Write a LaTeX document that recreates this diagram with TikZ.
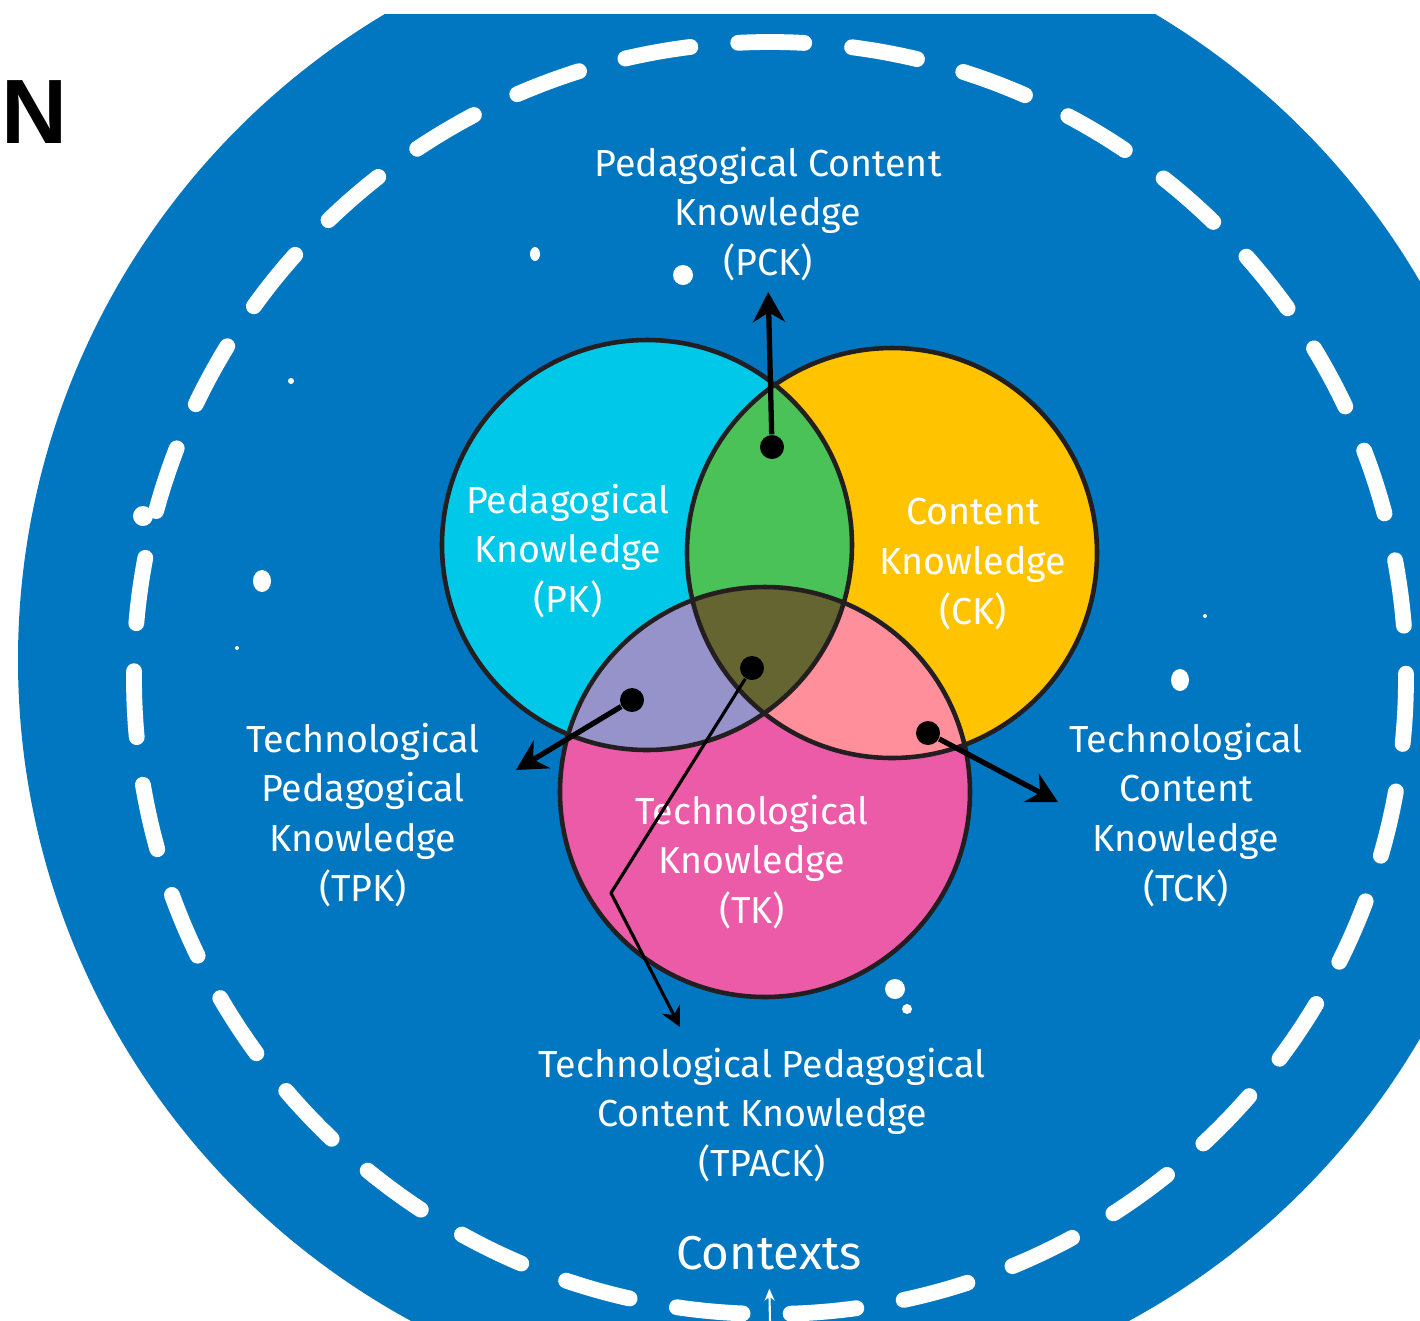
\documentclass[tikz,border=0pt]{standalone}
\usepackage{fontspec}
\setmainfont{Fira Sans}
\newfontfamily\letterfont{Liberation Sans}
\usetikzlibrary{arrows.meta}

\definecolor{ctxblue}{RGB}{0,119,192}
\definecolor{pkcyan}{RGB}{0,200,232}
\definecolor{ckyellow}{RGB}{255,195,0}
\definecolor{tkpink}{RGB}{236,91,168}
\definecolor{pckgreen}{RGB}{75,194,87}
\definecolor{tpklilac}{RGB}{150,147,202}
\definecolor{tcksalmon}{RGB}{255,143,155}
\definecolor{tpackolive}{RGB}{100,101,48}
\definecolor{rim}{RGB}{35,31,32}

\begin{document}
\begin{tikzpicture}[x=0.01cm, y=-0.01cm,
  lbl/.style={text=white, align=center, inner sep=0pt, font=\fontsize{10.7}{14.2}\selectfont},
  knot/.style={circle, fill=black, inner sep=0pt, minimum size=0.24cm},
  pointer/.style={-{Stealth[length=0.3cm, width=0.32cm]}, line width=1.5pt, black},
  thinpointer/.style={-{Stealth[length=0.2cm, width=0.2cm]}, line width=0.9pt, black, line join=round},
  rimline/.style={draw=rim, line width=1.3pt},
  spot/.style={fill=white}]

\useasboundingbox (0,0) rectangle (1420,1320);
\fill[white] (0,0) rectangle (1420,1320);

%% Contexts background %%
\begin{scope}
\clip (0,14) rectangle (1420,1320);
\fill[ctxblue] (770,660) circle (752);
% dashed ring %
\draw[white, line width=4.5pt, line cap=round, dash pattern=on 0.66cm off 0.48cm] (770,678) circle (636);
\end{scope}

% white spots %
\fill[spot] (535,254) ellipse (5 and 7);
\fill[spot] (683,275) circle (10);
\fill[spot] (291,381) circle (3);
\fill[spot] (143,516) circle (10);
\fill[spot] (262,581) ellipse (9 and 11);
\fill[spot] (237,648) circle (2);
\fill[spot] (1180,680) ellipse (9 and 11);
\fill[spot] (1205,616) circle (2);
\fill[spot] (895,989) circle (10);
\fill[spot] (907,1009) circle (5);

%% Knowledge circles %%
\fill[pkcyan] (647,545) circle (205);
\fill[ckyellow] (892,553) circle (205);
\fill[tkpink] (765,792) circle (205);

% overlaps %
\begin{scope}
\clip (647,545) circle (205);
\fill[pckgreen] (892,553) circle (205);
\fill[tpklilac] (765,792) circle (205);
\end{scope}
\begin{scope}
\clip (892,553) circle (205);
\fill[tcksalmon] (765,792) circle (205);
\clip (647,545) circle (205);
\fill[tpackolive] (765,792) circle (205);
\end{scope}

% outlines %
\draw[rimline] (647,545) circle (205);
\draw[rimline] (892,553) circle (205);
\draw[rimline] (765,792) circle (205);

%% Labels %%
\node[font=\letterfont\bfseries\fontsize{26}{30}\selectfont, inner sep=0pt] (letterN) at (35,112) {N};

\node[lbl] (pk) at (568,551) {Pedagogical\\Knowledge\\(PK)};
\node[lbl] (ck) at (973,564) {Content\\Knowledge\\(CK)};
\node[lbl] (tk) at (752,862) {Technological\\Knowledge\\(TK)};

\node[lbl] (pck) at (768,214) {Pedagogical Content\\Knowledge\\(PCK)};
\node[lbl] (tpk) at (363,815) {Technological\\Pedagogical\\Knowledge\\(TPK)};
\node[lbl] (tck) at (1186,815) {Technological\\Content\\Knowledge\\(TCK)};
\node[lbl] (tpack) at (762,1115) {Technological Pedagogical\\Content Knowledge\\(TPACK)};
\node[lbl, font=\fontsize{13.5}{16}\selectfont] (ctx) at (769,1253) {Contexts};

%% Pointers %%
\node[knot] (pckdot) at (772,447) {};
\node[knot] (tpkdot) at (632,700) {};
\node[knot] (tckdot) at (928,733) {};
\node[knot] (tpackdot) at (752,668) {};

\coordinate (tpktip) at (516,770);
\coordinate (tcktip) at (1058,802);
\coordinate (tpackbend) at (611,893);
\coordinate (tpacktip) at (680,1027);
\coordinate (ctxfoot) at (770,1322);

\draw[pointer] (pckdot) -- (pck.south) [shorten >=0.1cm];
\draw[pointer] (tpkdot) -- (tpktip);
\draw[pointer] (tckdot) -- (tcktip);
\draw[thinpointer] (tpackdot) -- (tpackbend) -- (tpacktip);
\draw[white, line width=0.6pt, -{Stealth[length=0.12cm, width=0.1cm]}, shorten >=0.18cm] (ctxfoot) -- (ctx.south);

\end{tikzpicture}
\end{document}
